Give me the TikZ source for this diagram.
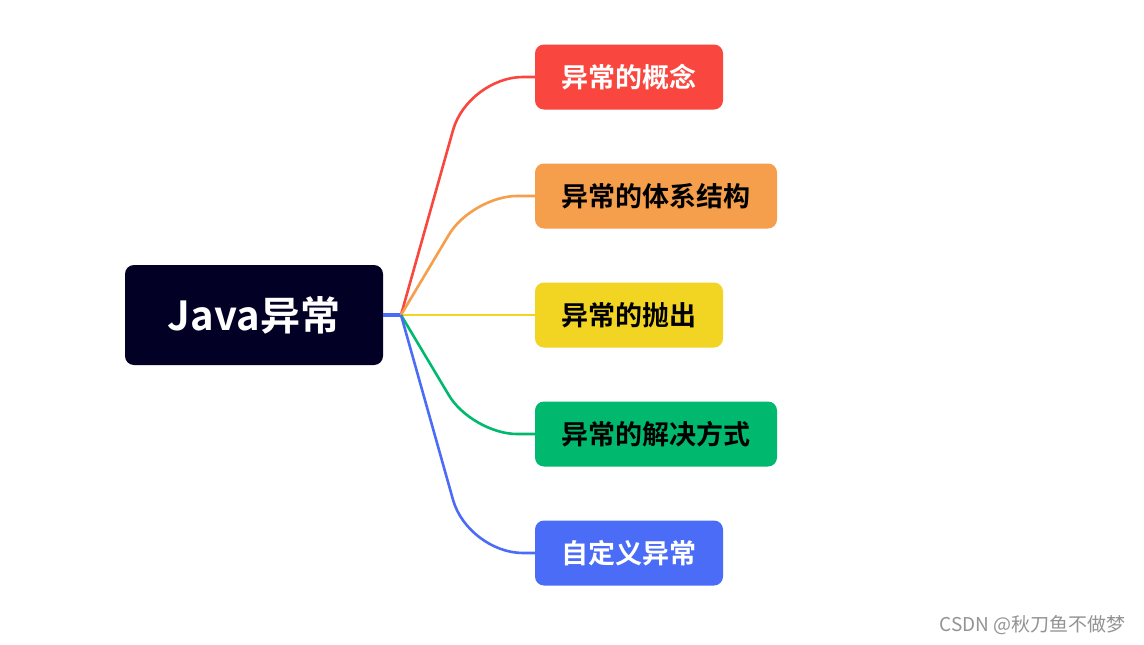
\documentclass[tikz,border=0pt]{standalone}
\usepackage{fontspec}
\newfontfamily\cjk{Noto Sans CJK SC}[BoldFont={* Bold}]
\definecolor{cdark}{RGB}{2,0,36}
\definecolor{cred}{RGB}{249,70,62}
\definecolor{corange}{RGB}{245,158,76}
\definecolor{cyellow}{RGB}{242,212,34}
\definecolor{cgreen}{RGB}{0,185,110}
\definecolor{cblue}{RGB}{74,108,247}
\begin{document}
\begin{tikzpicture}[x=1pt,y=-1pt,
  topic/.style={rounded corners=9pt, minimum height=65pt, inner sep=0pt,
    font=\cjk\bfseries\fontsize{27}{30}\selectfont},
  branch/.style={line width=2.6pt, rounded corners=55pt}]
\fill[white] (0,0) rectangle (1144,645);
\useasboundingbox (0,0) rectangle (1144,645);
\node[fill=cdark, rounded corners=9pt, minimum width=258pt, minimum height=100pt, inner sep=0pt,
  text=white, font=\cjk\bfseries\fontsize{40}{46}\selectfont] (root) at (254,315) {Java异常};
\node[topic, fill=cred, text=white, minimum width=188pt] (t1) at (629,77) {异常的概念};
\node[topic, fill=corange, text=black, minimum width=242pt] (t2) at (656,196) {异常的体系结构};
\node[topic, fill=cyellow, text=black, minimum width=188pt] (t3) at (629,315) {异常的抛出};
\node[topic, fill=cgreen, text=black, minimum width=242pt] (t4) at (656,434) {异常的解决方式};
\node[topic, fill=cblue, text=white, minimum width=188pt] (t5) at (629,553) {自定义异常};
\coordinate (hub) at (401,315);
\draw[cblue, line width=3.5pt] (root.east) -- (hub);
\draw[branch, cred] (hub) -- (468,77) -- (t1.west);
\draw[branch, corange, rounded corners=45pt] (hub) -- (472,196) -- (t2.west);
\draw[branch, cyellow] (hub) -- (t3.west);
\draw[branch, cgreen, rounded corners=45pt] (hub) -- (472,434) -- (t4.west);
\draw[branch, cblue] (hub) -- (468,553) -- (t5.west);
\node[text=gray!85, font=\cjk\fontsize{19}{22}\selectfont, anchor=east] (wm) at (1129,625) {CSDN @秋刀鱼不做梦};
\end{tikzpicture}
\end{document}
